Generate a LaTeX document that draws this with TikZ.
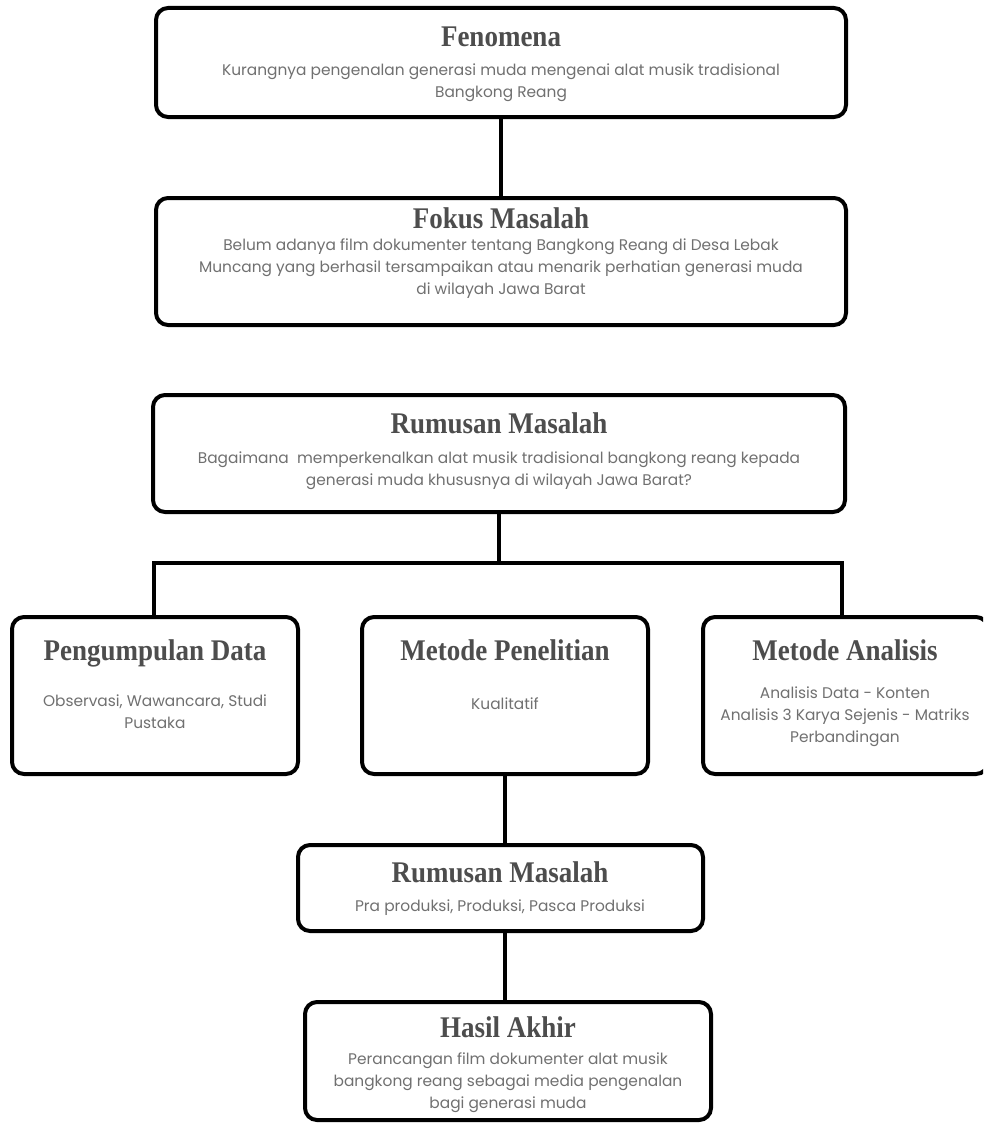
\documentclass[tikz,border=0pt]{standalone}
\usepackage{fontspec}
\newfontfamily\titlefont[FakeStretch=0.9]{Liberation Serif}
\newfontfamily\bodyfont{Poppins}
\definecolor{titlegray}{HTML}{4D4D4D}
\definecolor{bodygray}{HTML}{707070}
\tikzset{
  box/.style={draw=black, line width=4pt, rounded corners=12pt, inner sep=0pt, fill=white},
  ttl/.style={font=\titlefont\bfseries\fontsize{30}{34}\selectfont, text=titlegray, inner sep=0pt, anchor=base},
  body/.style={font=\bodyfont\fontsize{15.4}{22}\selectfont, text=bodygray, align=center, inner sep=0pt},
  link/.style={draw=black, line width=4.5pt}
}
\begin{document}
\begin{tikzpicture}[x=1pt,y=-1pt]
\useasboundingbox (0,0) rectangle (983,1124);
\fill[white] (0,0) rectangle (983,1124);
\begin{scope}
\clip (0,0) rectangle (983,1124);
% boxes
\node[box, minimum width=690pt, minimum height=109pt] (fen) at (501,62.5) {};
\node[box, minimum width=690pt, minimum height=127pt] (fok) at (501,261.5) {};
\node[box, minimum width=692pt, minimum height=117pt] (rum) at (499,453.5) {};
\node[box, minimum width=286pt, minimum height=157pt] (pd) at (155,695.5) {};
\node[box, minimum width=286pt, minimum height=157pt] (mp) at (505,695.5) {};
\node[box, minimum width=285pt, minimum height=157pt] (ma) at (845.5,695.5) {};
\node[box, minimum width=405pt, minimum height=86pt] (rumb) at (500.5,888) {};
\node[box, minimum width=406pt, minimum height=118pt] (ha) at (508,1061) {};
% connectors
\coordinate (bl) at (154,563);
\coordinate (br) at (842,563);
\draw[link] (fen.south) -- (fok.north);
\draw[link] (rum.south) -- (rum.south |- bl);
\draw[link] (bl |- pd.north) -- (bl) -- (br) -- (br |- ma.north);
\draw[link] (mp.south) -- (mp.south |- rumb.north);
\draw[link] (mp.south |- rumb.south) -- (mp.south |- ha.north);
% texts
\node[ttl] (fent) at (501,47) {Fenomena};
\node[body] (fenb) at (501,83) {Kurangnya pengenalan generasi muda mengenai alat musik tradisional\\Bangkong Reang};
\node[ttl] (fokt) at (501,228) {Fokus Masalah};
\node[body] (fokb) at (501,268.5) {Belum adanya film dokumenter tentang Bangkong Reang di Desa Lebak\\Muncang yang berhasil tersampaikan atau menarik perhatian generasi muda\\di wilayah Jawa Barat};
\node[ttl] (rumt) at (499,433) {Rumusan Masalah};
\node[body] (rumbd) at (499,471) {Bagaimana\ \ memperkenalkan alat musik tradisional bangkong reang kepada\\generasi muda khususnya di wilayah Jawa Barat?};
\node[ttl] (pdt) at (155,660) {Pengumpulan Data};
\node[body] (pdb) at (155,711.5) {Observasi, Wawancara, Studi\\Pustaka};
\node[ttl] (mpt) at (505,660) {Metode Penelitian};
\node[body] (mpb) at (505,703.5) {Kualitatif};
\node[ttl] (mat) at (845,660) {Metode Analisis};
\node[body] (mab) at (845,716.5) {Analisis Data - Konten\\Analisis 3 Karya Sejenis - Matriks\\Perbandingan};
\node[ttl] (rumbt) at (500,882) {Rumusan Masalah};
\node[body] (rumbb) at (500,907.5) {Pra produksi, Produksi, Pasca Produksi};
\node[ttl] (hat) at (508,1037) {Hasil Akhir};
\node[body] (hab) at (508,1083) {Perancangan film dokumenter alat musik\\bangkong reang sebagai media pengenalan\\bagi generasi muda};
\end{scope}
\end{tikzpicture}
\end{document}
